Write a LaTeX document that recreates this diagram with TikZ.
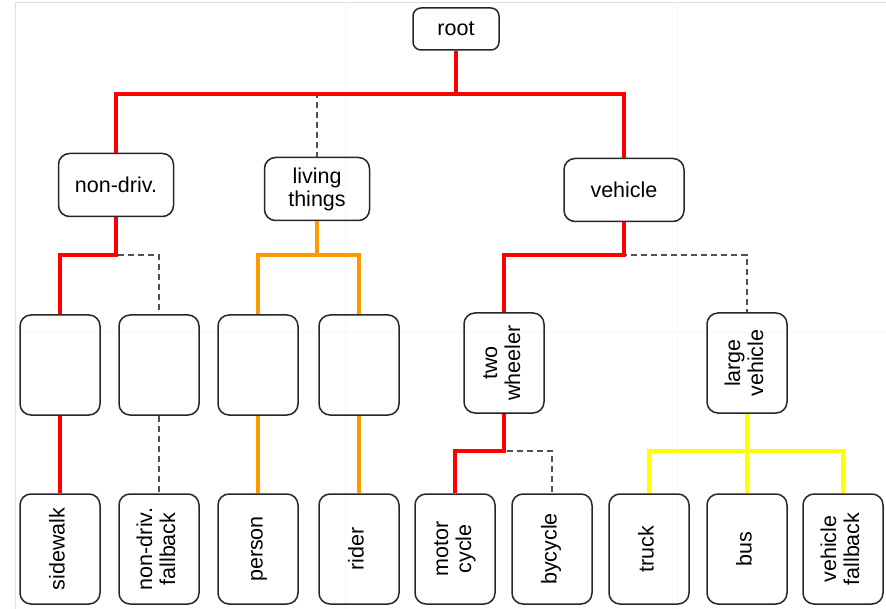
\documentclass[tikz,border=0pt]{standalone}
\usepackage{fontspec}
\setmainfont{Liberation Sans}
\usepackage{xcolor}
\usepackage{tikz}

\definecolor{edgered}{HTML}{FF0000}
\definecolor{edgeorange}{HTML}{FF9900}
\definecolor{edgeyellow}{HTML}{FFFF00}
\definecolor{edgegray}{HTML}{505050}
\newcommand{\vtext}[1]{\rotatebox{90}{\begin{tabular}{@{}c@{}}#1\end{tabular}}}

\begin{document}
\begin{tikzpicture}[x=1pt,y=-1pt,
    box/.style={draw=black!85, line width=1.5pt, rounded corners=11pt, inner sep=0pt,
        minimum width=80pt, minimum height=100pt, align=center,
        font=\fontsize{21.5}{23}\selectfont},
    leaf/.style={box, minimum height=110pt},
    treeedge/.style={draw=edgegray, line width=1.5pt, dash pattern=on 6pt off 4pt},
    hiedge/.style={draw=#1, line width=3.5pt}]
\useasboundingbox (0,0) rectangle (886,609);

% Page frame and faint grid
\draw[gray!6, line width=1pt] (345,3) -- (345,609) (677,3) -- (677,609) (15,333) -- (886,333);
\draw[gray!25, line width=1pt] (15,609) -- (15,3) -- (886,3);

% Upper levels
\node[box, minimum width=86pt, minimum height=42pt, rounded corners=8pt] (root) at (456,29) {root};
\node[box, minimum width=115pt, minimum height=63pt] (nondriv) at (116,185) {non-driv.};
\node[box, minimum width=105pt, minimum height=63pt] (living) at (317,189) {living\\things};
\node[box, minimum width=120pt, minimum height=63pt] (vehicle) at (624,190) {vehicle};

% Middle level
\foreach \x/\n in {60/nd-a, 159/nd-b, 258/lt-a, 359/lt-b} {
    \node[box] (\n) at (\x,365) {};
}
\node[box] (twowh) at (504,363) {\vtext{two\\wheeler}};
\node[box] (largev) at (747,363) {\vtext{large\\vehicle}};

% Leaves
\node[leaf] (sidewalk) at (60,549) {\vtext{sidewalk}};
\node[leaf] (ndfb) at (159,549) {\vtext{non-driv.\\fallback}};
\node[leaf] (person) at (258,549) {\vtext{person}};
\node[leaf] (rider) at (359,549) {\vtext{rider}};
\node[leaf] (motor) at (455,549) {\vtext{motor\\cycle}};
\node[leaf] (bycycle) at (552,549) {\vtext{bycycle}};
\node[leaf] (truck) at (649,549) {\vtext{truck}};
\node[leaf] (bus) at (747,549) {\vtext{bus}};
\node[leaf] (vfb) at (843,549) {\vtext{vehicle\\fallback}};

% Junctions
\coordinate (j-root) at (root.south |- 0,94);
\foreach \p in {nondriv, living, vehicle} {
    \coordinate (j-\p) at (\p.south |- 0,255);
}
\foreach \p in {nd-a, nd-b, lt-a, lt-b, twowh, largev} {
    \coordinate (j-\p) at (\p.south |- 0,451);
}

% Full tree
\foreach \p/\c in {root/nondriv, root/living, root/vehicle,
    nondriv/nd-a, nondriv/nd-b, living/lt-a, living/lt-b,
    vehicle/twowh, vehicle/largev, nd-a/sidewalk, nd-b/ndfb,
    lt-a/person, lt-b/rider, twowh/motor, twowh/bycycle,
    largev/truck, largev/bus, largev/vfb} {
    \draw[treeedge] (\p.south) -- (j-\p) -| (\c.north);
}

% Highlighted branches
\foreach \p/\c in {root/nondriv, root/vehicle, nondriv/nd-a, nd-a/sidewalk,
    vehicle/twowh, twowh/motor} {
    \draw[hiedge=edgered] (\p.south) -- (j-\p) -| (\c.north);
}
\foreach \p/\c in {living/lt-a, living/lt-b, lt-a/person, lt-b/rider} {
    \draw[hiedge=edgeorange] (\p.south) -- (j-\p) -| (\c.north);
}
\foreach \p/\c in {largev/truck, largev/bus, largev/vfb} {
    \draw[hiedge=edgeyellow] (\p.south) -- (j-\p) -| (\c.north);
}
\end{tikzpicture}
\end{document}
